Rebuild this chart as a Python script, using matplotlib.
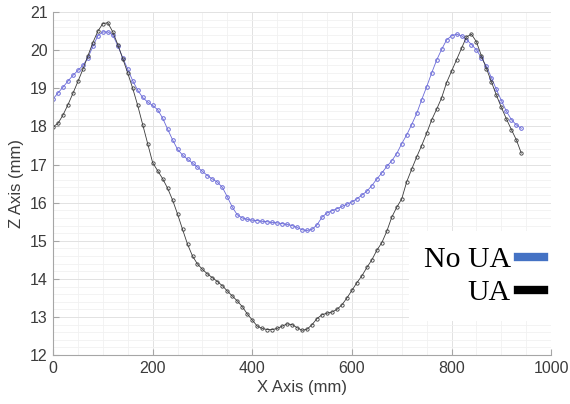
import matplotlib.pyplot as plt
from matplotlib.lines import Line2D
from matplotlib.ticker import MultipleLocator

# x positions of the profile samples (mm)
x_mm = list(range(0, 950, 10))

no_ua_z = [18.72, 18.88, 19.03, 19.19, 19.34, 19.47, 19.60, 19.80, 20.10, 20.38,
           20.48, 20.48, 20.40, 20.12, 19.80, 19.50, 19.20, 18.95, 18.76, 18.64,
           18.55, 18.44, 18.22, 17.93, 17.65, 17.40, 17.25, 17.14, 17.04, 16.93,
           16.82, 16.71, 16.62, 16.54, 16.40, 16.15, 15.88, 15.68, 15.60, 15.56,
           15.54, 15.53, 15.51, 15.50, 15.48, 15.47, 15.45, 15.43, 15.40, 15.35,
           15.29, 15.27, 15.30, 15.42, 15.62, 15.73, 15.79, 15.84, 15.90, 15.96,
           16.02, 16.10, 16.20, 16.30, 16.45, 16.62, 16.78, 16.95, 17.10, 17.29,
           17.55, 17.78, 18.05, 18.34, 18.70, 19.04, 19.40, 19.74, 20.02, 20.27,
           20.38, 20.42, 20.38, 20.28, 20.15, 20.01, 19.80, 19.58, 19.28, 18.97,
           18.68, 18.40, 18.18, 18.04, 17.95]

ua_z = [17.99, 18.08, 18.30, 18.57, 18.87, 19.18, 19.50, 19.85, 20.20, 20.50,
        20.70, 20.72, 20.48, 20.15, 19.78, 19.40, 19.00, 18.55, 18.05, 17.55,
        17.05, 16.84, 16.63, 16.38, 16.07, 15.70, 15.30, 14.91, 14.60, 14.39,
        14.25, 14.13, 14.03, 13.93, 13.82, 13.68, 13.55, 13.42, 13.27, 13.08,
        12.92, 12.76, 12.70, 12.67, 12.67, 12.70, 12.76, 12.82, 12.80, 12.72,
        12.65, 12.68, 12.80, 12.96, 13.06, 13.10, 13.13, 13.20, 13.32, 13.50,
        13.70, 13.90, 14.08, 14.30, 14.50, 14.75, 14.95, 15.25, 15.62, 15.88,
        16.10, 16.55, 16.88, 17.20, 17.50, 17.82, 18.17, 18.45, 18.75, 19.15,
        19.45, 19.75, 20.05, 20.35, 20.42, 20.22, 19.85, 19.52, 19.17, 18.82,
        18.50, 18.20, 17.92, 17.65, 17.30]

labels = ["No UA", "UA"]

plt.rcParams["font.family"] = ["Liberation Sans", "DejaVu Sans"]

fig = plt.figure(figsize=(5.7, 4.04), dpi=100)
ax = fig.add_axes([0.093, 0.121, 0.874, 0.849])

ax.plot(x_mm, no_ua_z, color="#6a6ad8", lw=0.6, marker="o", ms=2.6,
        mfc="none", mew=0.7)
ax.plot(x_mm, ua_z, color="#3a3a3a", lw=0.6, marker="o", ms=2.4,
        mfc="none", mew=0.6)

ax.set_xlim(0, 1000)
ax.set_ylim(12, 21)
ax.xaxis.set_major_locator(MultipleLocator(200))
ax.xaxis.set_minor_locator(MultipleLocator(50))
ax.yaxis.set_major_locator(MultipleLocator(1))
ax.yaxis.set_minor_locator(MultipleLocator(0.2))

ax.grid(True, which="major", color="#e2e2e2", lw=0.7)
ax.grid(True, which="minor", color="#f1f1f1", lw=0.6)
ax.set_axisbelow(True)

for side in ["top", "right"]:
    ax.spines[side].set_visible(False)
for side in ["left", "bottom"]:
    ax.spines[side].set_color("#a6a6a6")
    ax.spines[side].set_linewidth(0.8)

ax.tick_params(which="major", direction="in", length=4, color="#a6a6a6",
               labelsize=11.5, labelcolor="#3c3c3c", pad=4)
ax.tick_params(which="minor", length=0)

ax.set_xlabel("X Axis (mm)", fontsize=12, color="#3c3c3c", labelpad=3)
ax.set_ylabel("Z Axis (mm)", fontsize=12, color="#3c3c3c", labelpad=4)

handles = [Line2D([], [], color="#4472c4", lw=6),
           Line2D([], [], color="black", lw=6)]
leg = ax.legend(handles, labels, loc="center right",
                bbox_to_anchor=(1.045, 0.23), markerfirst=False,
                prop={"family": "Liberation Serif", "size": 21.5},
                handlelength=0.85, handletextpad=0.25, labelspacing=0.2,
                borderpad=0.5, frameon=True, fancybox=False)
leg.get_frame().set_facecolor("white")
leg.get_frame().set_edgecolor("none")
leg.get_frame().set_alpha(1.0)
for t in leg.get_texts():
    t.set_ha("right")

fig.savefig("out.png", dpi=100)
